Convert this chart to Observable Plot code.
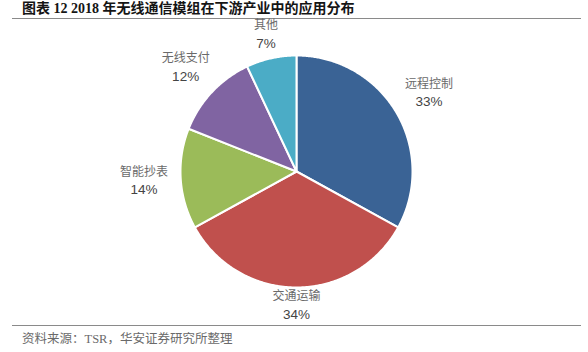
<!DOCTYPE html>
<html>
<head>
<meta charset="utf-8">
<script src="https://cdn.jsdelivr.net/npm/d3@7"></script>
<script src="https://cdn.jsdelivr.net/npm/@observablehq/plot@0.6"></script>
<style>
  html, body { margin: 0; padding: 0; background: #fff; }
  #wrap { position: relative; margin-left: 12px; width: 569px; }
  .title {
    height: 19px; box-sizing: border-box; padding-left: 10px;
    font-family: "Liberation Serif", "Noto Sans CJK SC", serif;
    font-weight: bold; font-size: 14px; line-height: 18px; color: #151515;
    border-bottom: 1.5px solid #8a8a8a; white-space: nowrap;
  }
  .footer {
    height: 27px; box-sizing: border-box; padding-left: 10px;
    border-top: 1.5px solid #8a8a8a;
    font-family: "Liberation Serif", "Noto Sans CJK SC", serif;
    font-size: 12.5px; line-height: 26px; color: #6a6a6a; white-space: nowrap;
  }
  #chart svg { display: block; }
</style>
</head>
<body>
<div id="wrap">
  <div class="title">图表 12 2018 年无线通信模组在下游产业中的应用分布</div>
  <div id="chart"></div>
  <div class="footer">资料来源：TSR，华安证券研究所整理</div>
</div>
<script>
const categories = ["远程控制", "交通运输", "智能抄表", "无线支付", "其他"];
const values = [33, 34, 14, 12, 7];
const colors = ["#3a6395", "#c0504d", "#9bbb59", "#8064a2", "#4bacc6"];

const W = 569, H = 306;
const cx = 284, cy = 152;   // pie centre inside the svg (pixels)
const R = 116;

const arcs = d3.pie().sort(null)(values);

// slice outlines in polar → cartesian (pixel units, y downward)
const slicePts = [];
arcs.forEach((a, i) => {
  const name = categories[i];
  slicePts.push({name, x: 0, y: 0});
  const n = Math.max(2, Math.ceil((a.endAngle - a.startAngle) / (Math.PI / 360)));
  for (let k = 0; k <= n; k++) {
    const t = a.startAngle + (a.endAngle - a.startAngle) * k / n;
    slicePts.push({name, x: R * Math.sin(t), y: -R * Math.cos(t)});
  }
  slicePts.push({name, x: 0, y: 0});
});

// label anchors outside the pie
const hw = 30, hh = 12, RL = 122;
const labels = arcs.map((a, i) => {
  const t = (a.startAngle + a.endAngle) / 2;
  const s = Math.sin(t), c = Math.cos(t);
  const d = RL + Math.abs(s) * hw + Math.abs(c) * hh;
  return {name: categories[i], pct: values[i] + "%", x: d * s, y: -d * c};
});

const chart = Plot.plot({
  width: W, height: H,
  margin: 0,
  x: {domain: [-cx, W - cx], range: [0, W], axis: null},
  y: {domain: [-cy, H - cy], range: [0, H], axis: null},
  color: {domain: categories, range: colors},
  style: {background: "#fff", overflow: "visible"},
  marks: [
    Plot.line(slicePts, {x: "x", y: "y", z: "name", fill: "name", stroke: "#fff", strokeWidth: 2, strokeLinejoin: "round", curve: "linear"}),
    Plot.text(labels, {x: "x", y: "y", text: "name", dy: -9, fill: "#6a6a6a", fontSize: 12, fontFamily: "Noto Sans CJK SC", style: "letter-spacing:2.5px"}),
    Plot.text(labels, {x: "x", y: "y", text: "pct", dy: 9, fill: "#444", fontSize: 13.5, fontFamily: "Liberation Sans, Arial, sans-serif"})
  ]
});
document.getElementById("chart").appendChild(chart);
</script>
</body>
</html>
